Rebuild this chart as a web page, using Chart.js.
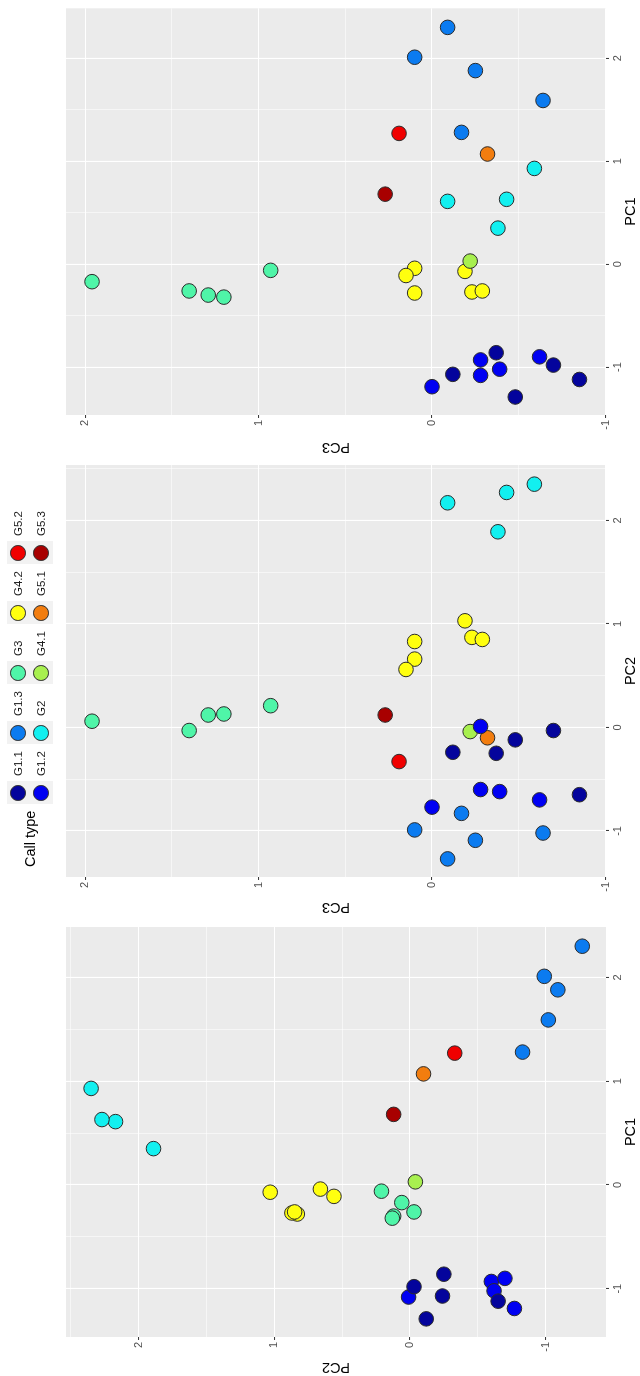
<!DOCTYPE html>
<html><head><meta charset="utf-8">
<script src="https://cdn.jsdelivr.net/npm/chart.js@4.4.1/dist/chart.umd.min.js"></script>
<style>
html,body{margin:0;padding:0;background:#fff;width:640px;height:1376px;overflow:hidden;}
#fig{position:absolute;left:0;top:0;width:1376px;height:640px;transform-origin:0 0;transform:translate(0px,1376px) rotate(-90deg);background:#fff;font-family:"Liberation Sans",Arial,sans-serif;}
#fig canvas{position:absolute;top:0;}
.lg-title{position:absolute;font-size:14.5px;color:#000;line-height:16px;white-space:nowrap;}
.key{position:absolute;width:23px;height:23px;background:#F2F2F2;}
.dot{position:absolute;left:3.7px;top:3.7px;width:13.6px;height:13.6px;border-radius:50%;border:1px solid #2b2b2b;box-sizing:content-box;}
.lab{position:absolute;font-size:11.5px;color:#1a1a1a;line-height:13px;white-space:nowrap;}
</style></head><body>
<div id="fig">
<canvas id="cA" width="460" height="640" style="left:0px"></canvas>
<canvas id="cB" width="460" height="640" style="left:460px"></canvas>
<canvas id="cC" width="456" height="640" style="left:920px"></canvas>
<div id="legend"></div>
</div>
<script>
// ---------- data ----------
const categories = ['G1.1','G1.2','G1.3','G2','G3','G4.1','G4.2','G5.1','G5.2','G5.3'];
const categoryColors = ['#04049C','#0000F2','#0B7BF0','#12F0F0','#4FF5A8','#A8F04F','#FFFF0F','#F27D0F','#F00000','#A80000'];
const sampleGroup = [
  'G1.1','G1.1','G1.1','G1.1','G1.1',
  'G1.2','G1.2','G1.2','G1.2','G1.2',
  'G1.3','G1.3','G1.3','G1.3','G1.3',
  'G2','G2','G2','G2',
  'G3','G3','G3','G3','G3',
  'G4.1',
  'G4.2','G4.2','G4.2','G4.2','G4.2','G4.2',
  'G5.1','G5.2','G5.3'
];
const pc1 = [
  -0.86,-0.98,-1.07,-1.12,-1.29,
  -1.08,-0.93,-0.90,-1.02,-1.19,
  2.30,2.01,1.88,1.59,1.28,
  0.93,0.61,0.63,0.35,
  -0.06,-0.17,-0.26,-0.30,-0.32,
  0.03,
  -0.07,-0.04,-0.11,-0.28,-0.27,-0.26,
  1.07,1.27,0.68
];
const pc2 = [
  -0.25,-0.03,-0.24,-0.65,-0.12,
  0.01,-0.60,-0.70,-0.62,-0.77,
  -1.27,-0.99,-1.09,-1.02,-0.83,
  2.35,2.17,2.27,1.89,
  0.21,0.06,-0.03,0.12,0.13,
  -0.04,
  1.03,0.66,0.56,0.83,0.87,0.85,
  -0.10,-0.33,0.12
];
const pc3 = [
  -0.37,-0.70,-0.12,-0.85,-0.48,
  -0.28,-0.28,-0.62,-0.39,0.00,
  -0.09,0.10,-0.25,-0.64,-0.17,
  -0.59,-0.09,-0.43,-0.38,
  0.93,1.96,1.40,1.29,1.20,
  -0.22,
  -0.19,0.10,0.15,0.10,-0.23,-0.29,
  -0.32,0.19,0.27
];
const tickLabels = [-1, 0, 1, 2];
const rangePC1 = [-1.465, 2.485];
const rangePC2 = [-1.445, 2.535];
const rangePC3 = [-1.003, 2.11];

// ---------- helpers ----------
Chart.defaults.font.family = '"Liberation Sans", Arial, sans-serif';

const panelBg = {
  id: 'panelBg',
  beforeDraw(chart) {
    const {ctx, chartArea: a} = chart;
    ctx.save();
    ctx.fillStyle = '#EBEBEB';
    ctx.fillRect(a.left, a.top, a.right - a.left, a.bottom - a.top);
    ctx.restore();
  }
};

function gridValues(range) {
  const out = [];
  for (let v = Math.ceil(range[0] * 2) / 2; v <= range[1] + 1e-9; v += 0.5) out.push(Math.round(v * 2) / 2);
  return out;
}

function axis(range, title, isX, fitSize) {
  return {
    type: 'linear',
    position: isX ? 'bottom' : 'left',
    min: range[0], max: range[1],
    afterBuildTicks(scale) { scale.ticks = gridValues(range).map(v => ({value: v})); },
    afterFit(scale) { if (isX) scale.height = fitSize; else scale.width = fitSize; },
    grid: {
      color: '#FFFFFF',
      lineWidth: c => (c.tick && tickLabels.includes(c.tick.value)) ? 1.1 : 0.55,
      tickColor: c => (c.tick && tickLabels.includes(c.tick.value)) ? '#333333' : 'rgba(0,0,0,0)',
      tickWidth: 1,
      tickLength: 3,
      drawTicks: true
    },
    border: { display: false },
    ticks: {
      autoSkip: false, maxRotation: 0, minRotation: 0,
      color: '#4D4D4D', padding: 2,
      font: { size: 11 },
      callback: v => tickLabels.includes(v) ? String(v) : ''
    },
    title: { display: true, text: title, color: '#000', font: { size: 14.5 }, padding: 0 }
  };
}

function datasets(xs, ys) {
  return categories.map((cat, k) => {
    const data = [];
    sampleGroup.forEach((g, i) => { if (g === cat) data.push({x: xs[i], y: ys[i]}); });
    return {
      label: cat, data,
      backgroundColor: categoryColors[k],
      borderColor: '#2b2b2b', borderWidth: 1,
      pointRadius: 7.3, pointHoverRadius: 7.3
    };
  });
}

function makeChart(id, xs, ys, xRange, yRange, xTitle, yTitle, yWidth, padRight) {
  return new Chart(document.getElementById(id), {
    type: 'scatter',
    data: { datasets: datasets(xs, ys) },
    options: {
      responsive: false, animation: false, devicePixelRatio: 1, events: [],
      layout: { padding: { top: 66, right: padRight, bottom: 0, left: 0 } },
      plugins: { legend: { display: false }, tooltip: { enabled: false } },
      scales: {
        x: axis(xRange, xTitle, true, 34),
        y: axis(yRange, yTitle, false, yWidth)
      }
    },
    plugins: [panelBg]
  });
}

makeChart('cA', pc1, pc2, rangePC1, rangePC2, 'PC1', 'PC2', 39, 11);
makeChart('cB', pc2, pc3, rangePC2, rangePC3, 'PC2', 'PC3', 39, 9);
makeChart('cC', pc1, pc3, rangePC1, rangePC3, 'PC1', 'PC3', 41, 3);

// ---------- legend (HTML, real text) ----------
const lg = document.getElementById('legend');
const t = document.createElement('div');
t.className = 'lg-title'; t.textContent = 'Call type';
t.style.left = '509px'; t.style.top = '22px';
lg.appendChild(t);
categories.forEach((cat, k) => {
  const col = Math.floor(k / 2), row = k % 2;
  const cx = 583 + 60 * col, cy = 18 + 23 * row;
  const key = document.createElement('div');
  key.className = 'key';
  key.style.left = (cx - 11.5) + 'px'; key.style.top = (cy - 11.5) + 'px';
  const dot = document.createElement('div');
  dot.className = 'dot'; dot.style.background = categoryColors[k];
  key.appendChild(dot);
  lg.appendChild(key);
  const lab = document.createElement('div');
  lab.className = 'lab'; lab.textContent = cat;
  lab.style.left = (cx + 17) + 'px'; lab.style.top = (cy - 6.5) + 'px';
  lg.appendChild(lab);
});
</script>
</body></html>
